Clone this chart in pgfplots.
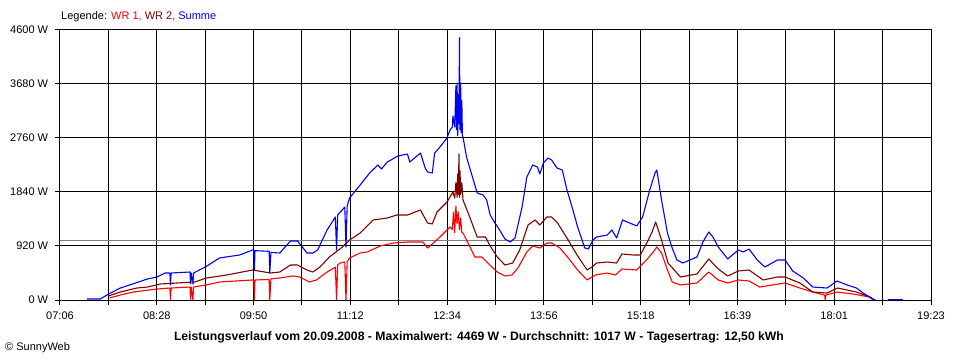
\documentclass[border=0pt]{standalone}
\usepackage{pgfplots}
\pgfplotsset{compat=1.18}
\usepackage{fontspec}
\setmainfont{Liberation Sans}
\definecolor{wrone}{RGB}{255,0,0}
\definecolor{wrtwo}{RGB}{128,0,0}
\definecolor{summe}{RGB}{0,0,255}
\definecolor{avg}{RGB}{128,128,128}
\begin{document}
\fontsize{11bp}{13bp}\selectfont
\begin{tikzpicture}
\useasboundingbox[fill=white] (-60bp,-60bp) rectangle (900bp,300bp);
\begin{axis}[
  at={(0,0)}, anchor=south west,
  scale only axis, width=871bp, height=270bp,
  xmin=426, xmax=1163, ymin=0, ymax=4600,
  axis line style={line width=1bp, black},
  xtick={426,466.944,507.889,548.833,589.778,630.722,671.667,712.611,753.556,794.5,835.444,876.389,917.333,958.278,999.222,1040.167,1081.111,1122.056,1163},
  xticklabels={07:06,,08:28,,09:50,,11:12,,12:34,,13:56,,15:18,,16:39,,18:01,,19:23},
  ytick={0,920,1840,2760,3680,4600},
  yticklabels={0 W,920 W,1840 W,2760 W,3680 W,4600 W},
  xtick pos=bottom, ytick pos=left,
  grid=major, major grid style={black, line width=1bp},
  tick align=outside, major tick length=5bp,
  tick style={black, line width=1bp},
  tick label style={font=\fontsize{11bp}{13bp}\selectfont},
  xticklabel style={yshift=-3bp},
  yticklabel style={xshift=-3bp},
  every axis plot/.append style={line width=1.1bp, line join=round},
]
\addplot[avg] coordinates {(426,1017) (1163,1017)};
\addplot[wrone] coordinates {
(468,34)(477,85)(488,136)(508,187)(519,204)(519.5,0)(520,204)(536,221)(536.5,0)(537,221)(538.5,0)(539,221)(550,256)(561,307)(589,341)(590,341)(590.5,0)(591,341)(603,350)(603.5,0)(604.5,360)(612,375)(623,409)(629,392)(637,307)(643,341)(652,477)(659,560)(660,0)(661,600)(663,630)(667,647)(668,0)(669,650)(671,716)(680,801)(686,818)(697,920)(708,971)(720,988)(728,988)(733,988)(737,886)(742,971)(747.5,1073)(756,1244)(758,1200)(759,1500)(760,1150)(761,1600)(762,1300)(763,1499)(764,1200)(765,1400)(766,1150)(767,1141)(773,903)(777,733)(783,733)(788,630)(796,477)(802.5,409)(808.5,426)(813.5,545)(821,818)(826,920)(832,886)(838,971)(842,971)(849,886)(857.5,681)(864,511)(872,341)(879,426)(889,460)(896,426)(901.5,528)(914,511)(923,699)(928,818)(931,903)(935,801)(940,511)(944,307)(951,256)(965,290)(975,477)(983,341)(991,290)(1000,341)(1009,324)(1018,221)(1029,256)(1039.5,290)(1052,204)(1063,136)(1073,85)(1073.5,0)(1074,85)(1083.5,136)(1097,102)(1111,51)(1114,0)};
\addplot[wrtwo] coordinates {
(467,68)(477,136)(491,204)(500,221)(511,273)(540,307)(550,375)(567,426)(589,511)(604,460)(612,477)(621,596)(627,596)(635,511)(640,477)(646,562)(654,733)(665,903)(671,1022)(680,1141)(691,1363)(703,1397)(711,1448)(720,1448)(731,1533)(737,1312)(741,1295)(745,1499)(753.5,1670)(758.5,1840)(760,1738)(761,2000)(762,1750)(762.5,2150)(763,1800)(763.6,2487)(764,1750)(764.5,2200)(765,1800)(766,2000)(767,1704)(773,1397)(779,1073)(786,1073)(790,920)(796,733)(802.5,596)(809,630)(815,852)(822,1278)(828,1363)(832,1278)(838,1414)(842,1414)(847,1312)(856,1022)(863.5,767)(872,511)(876,562)(880,630)(889,647)(897,630)(901.5,784)(911,767)(917,767)(923,988)(927,1159)(930,1329)(935,1022)(940.5,630)(948,460)(951,392)(965,443)(975,699)(983,528)(991,409)(1000,494)(1009,511)(1021,341)(1033,392)(1039.5,392)(1052,290)(1063,136)(1075,119)(1084,204)(1100,136)(1111,51)(1114,17)};
\addplot[summe] coordinates {
(449,17)(460,17)(467,100)(477,204)(485,256)(500,358)(508,392)(515,460)(519,460)(519.5,256)(520,460)(536,477)(536.5,273)(537,460)(538.5,273)(539,460)(549,562)(561,716)(578,767)(589,852)(590,852)(590.5,511)(591,840)(603,830)(603.5,460)(604.5,810)(612,801)(621,1005)(627,1005)(635,801)(640,801)(644,852)(652,1193)(659,1414)(660,852)(661,1450)(667,1584)(668,903)(669,1600)(671,1738)(680,1959)(688,2164)(695,2300)(698,2232)(703,2351)(712,2453)(720,2487)(722,2351)(731,2504)(735,2249)(737,2181)(741,2164)(743,2504)(747.5,2607)(753.5,2760)(756,2896)(758,2947)(758.5,3135)(760,2947)(761,3650)(761.5,2900)(762,3697)(762.5,2800)(763,3500)(763.6,3000)(764,4469)(764.5,2900)(765,3697)(765.5,2850)(766,3400)(766.5,2800)(767,2777)(770,2436)(775,2096)(779,1823)(784,1789)(787,1704)(790,1448)(794,1312)(798,1193)(802.5,1039)(807,988)(811,1056)(817,1584)(821,2096)(826,2300)(830,2266)(832,2147)(835,2334)(839,2419)(842,2385)(846.5,2249)(851,2215)(855,1874)(860,1533)(864,1244)(870,886)(873,869)(877,1022)(880,1073)(889,1107)(893,1193)(897,1056)(902,1363)(908,1312)(914,1261)(919,1414)(925,1874)(929.5,2164)(931,2215)(935,1704)(940,1141)(944,886)(948,681)(953,630)(959,681)(965,733)(970,988)(975,1159)(978.5,1073)(983,903)(991,699)(1000,852)(1004,818)(1009,869)(1016,681)(1022.5,562)(1033,681)(1039.5,681)(1046,494)(1055,375)(1063,221)(1075,204)(1083.5,324)(1092,256)(1100,204)(1105.5,119)(1114,17)(1116,0)};
\addplot[summe] coordinates {(1127,12)(1139,12)};
\end{axis}
\node[anchor=west, inner sep=0pt] at (1bp,283bp) {Legende: \textcolor{wrone}{WR 1,} \textcolor{wrtwo}{WR 2,} \textcolor{summe}{Summe}};
\node[font=\fontsize{12.2bp}{14bp}\selectfont\bfseries, inner sep=0pt] at (419bp,-37bp) {Leistungsverlauf vom 20.09.2008 - Maximalwert: 4469 W - Durchschnitt: 1017 W - Tagesertrag: 12,50 kWh};
\node[anchor=west, inner sep=0pt] at (-55bp,-48bp) {© SunnyWeb};
\end{tikzpicture}
\end{document}
